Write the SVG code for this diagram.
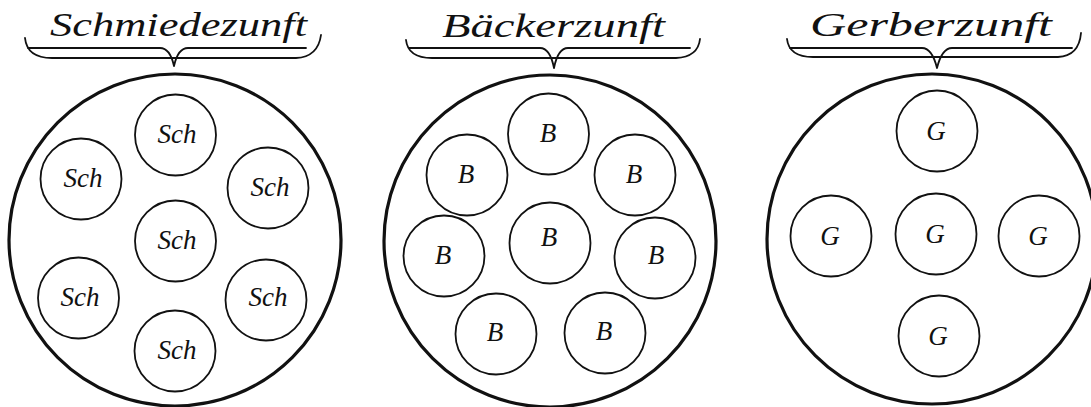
<svg xmlns="http://www.w3.org/2000/svg" width="1091" height="407" viewBox="0 0 1091 407">
<style>
.big{fill:none;stroke:#111;stroke-width:3.2}
.small{fill:none;stroke:#111;stroke-width:1.8}
.brace{fill:none;stroke:#111;stroke-width:1.8;stroke-linecap:round;stroke-linejoin:round}
.title{font-family:"Liberation Serif","DejaVu Serif",serif;font-style:italic;font-size:33px;fill:#111}
.lbl{font-family:"Liberation Serif","DejaVu Serif",serif;font-style:italic;font-size:27px;fill:#111;text-anchor:middle}
</style>
<rect width="1091" height="407" fill="#fff"/>

<g id="schmiedezunft">
  <text class="title" x="50" y="36" textLength="257" lengthAdjust="spacingAndGlyphs">Schmiedezunft</text>
  <path class="brace" d="M25,38 Q27,58 52,58 L296,58 Q318,57 321,35"/>
  <path class="brace" d="M28,48 L160,48 Q170,48 174,66 Q178,48 188,48 L306,48"/>
  <circle class="big" cx="175" cy="240" r="166"/>
  <g id="s1"><circle class="small" cx="175.5" cy="135" r="40.5"/><text class="lbl" x="177" y="143">Sch</text></g>
  <g id="s2"><circle class="small" cx="81" cy="179" r="40.5"/><text class="lbl" x="83" y="187">Sch</text></g>
  <g id="s3"><circle class="small" cx="268" cy="188" r="40.5"/><text class="lbl" x="270" y="196">Sch</text></g>
  <g id="s4"><circle class="small" cx="175.5" cy="241" r="40.5"/><text class="lbl" x="177" y="249">Sch</text></g>
  <g id="s5"><circle class="small" cx="78.5" cy="298" r="40.5"/><text class="lbl" x="80" y="306">Sch</text></g>
  <g id="s6"><circle class="small" cx="266" cy="300" r="40.5"/><text class="lbl" x="268" y="306">Sch</text></g>
  <g id="s7"><circle class="small" cx="175" cy="351" r="40.5"/><text class="lbl" x="177" y="359">Sch</text></g>
</g>

<g id="baeckerzunft">
  <text class="title" x="442" y="37" textLength="223" lengthAdjust="spacingAndGlyphs">Bäckerzunft</text>
  <path class="brace" d="M406,40 Q408,58 432,58 L676,58 Q698,57 700,39"/>
  <path class="brace" d="M409,48 L540,48 Q550,48 554,68 Q558,48 568,48 L690,48"/>
  <circle class="big" cx="550" cy="241" r="166"/>
  <g id="b1"><circle class="small" cx="548.5" cy="134" r="40.5"/><text class="lbl" x="548" y="142">B</text></g>
  <g id="b2"><circle class="small" cx="467" cy="175" r="40.5"/><text class="lbl" x="466" y="183">B</text></g>
  <g id="b3"><circle class="small" cx="635" cy="175" r="40.5"/><text class="lbl" x="634" y="183">B</text></g>
  <g id="b4"><circle class="small" cx="444" cy="256" r="40.5"/><text class="lbl" x="443" y="264">B</text></g>
  <g id="b5"><circle class="small" cx="550" cy="243" r="40.5"/><text class="lbl" x="549" y="246">B</text></g>
  <g id="b6"><circle class="small" cx="655" cy="258" r="40.5"/><text class="lbl" x="656" y="264">B</text></g>
  <g id="b7"><circle class="small" cx="496" cy="334" r="40.5"/><text class="lbl" x="495" y="341">B</text></g>
  <g id="b8"><circle class="small" cx="605" cy="333" r="40.5"/><text class="lbl" x="604" y="340">B</text></g>
</g>

<g id="gerberzunft">
  <text class="title" x="810" y="36" textLength="242" lengthAdjust="spacingAndGlyphs">Gerberzunft</text>
  <path class="brace" d="M787,39 Q789,57 813,57 L1058,57 Q1079,56 1081,33"/>
  <path class="brace" d="M790,48 L922,48 Q932,48 937,68 Q942,48 952,48 L1072,48"/>
  <circle class="big" cx="932" cy="239" r="165"/>
  <g id="g1"><circle class="small" cx="937" cy="131" r="40.5"/><text class="lbl" x="936" y="140">G</text></g>
  <g id="g2"><circle class="small" cx="831" cy="236" r="40.5"/><text class="lbl" x="830" y="245">G</text></g>
  <g id="g3"><circle class="small" cx="936" cy="234" r="40.5"/><text class="lbl" x="935" y="243">G</text></g>
  <g id="g4"><circle class="small" cx="1039" cy="236" r="40.5"/><text class="lbl" x="1038" y="245">G</text></g>
  <g id="g5"><circle class="small" cx="939" cy="336" r="40.5"/><text class="lbl" x="938" y="345">G</text></g>
</g>

<g id="connectors"></g>
</svg>
